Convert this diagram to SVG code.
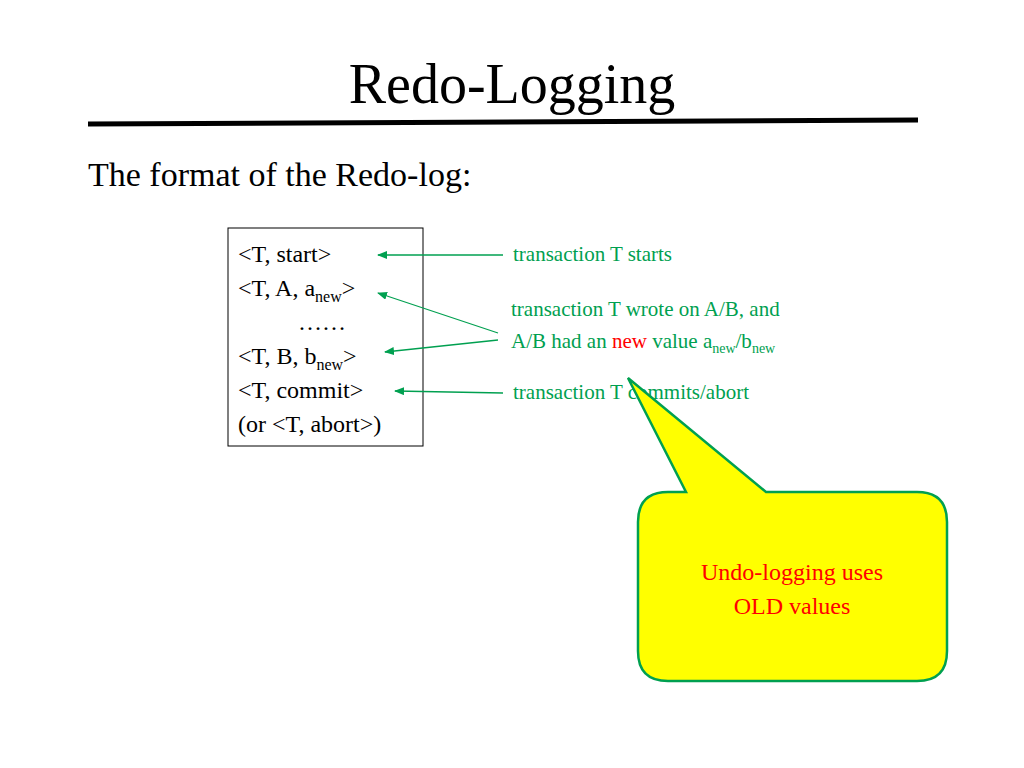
<svg xmlns="http://www.w3.org/2000/svg" width="1024" height="768" viewBox="0 0 1024 768">
<style>
text{font-family:"Liberation Serif","Times New Roman",serif}
.t{font-size:24px;fill:#000}
.g{font-size:21px;fill:#00a050}
.c{stroke:#00a050;stroke-width:1.3;fill:none;marker-end:url(#ah)}
</style>
<defs><marker id="ah" markerWidth="10" markerHeight="8" refX="9" refY="4" orient="auto" markerUnits="userSpaceOnUse"><path d="M0,0L10,4L0,8z" fill="#00a050"/></marker></defs>
<rect width="1024" height="768" fill="#fff"/>
<text x="512" y="103" font-size="56" text-anchor="middle">Redo-Logging</text>
<line x1="88" y1="124" x2="918" y2="120" stroke="#000" stroke-width="5"/>
<text x="88" y="186" font-size="34">The format of the Redo-log:</text>
<g id="log">
<rect x="228" y="228" width="195" height="218" fill="#fff" stroke="#000" stroke-width="1"/>
<text class="t" x="238" y="262">&lt;T, start&gt;</text>
<text class="t" x="238" y="296">&lt;T, A, a<tspan font-size="16" dy="6">new</tspan><tspan dy="-6">&gt;</tspan></text>
<text class="t" x="298" y="330">……</text>
<text class="t" x="238" y="364">&lt;T, B, b<tspan font-size="16" dy="6">new</tspan><tspan dy="-6">&gt;</tspan></text>
<text class="t" x="238" y="398">&lt;T, commit&gt;</text>
<text class="t" x="238" y="432">(or &lt;T, abort&gt;)</text>
</g>
<g id="labels">
<text class="g" x="513" y="261">transaction T starts</text>
<text class="g" x="511" y="316">transaction T wrote on A/B, and</text>
<text class="g" x="511" y="348">A/B had an <tspan fill="#ff0000">new</tspan> value a<tspan font-size="14" dy="5">new</tspan><tspan dy="-5">/b</tspan><tspan font-size="14" dy="5">new</tspan></text>
<text class="g" x="513" y="399">transaction T commits/abort</text>
</g>
<g id="connectors">
<line class="c" x1="503" y1="255" x2="378" y2="255"/>
<line class="c" x1="498" y1="333" x2="378" y2="293"/>
<line class="c" x1="498" y1="340" x2="385" y2="352"/>
<line class="c" x1="503" y1="393" x2="395" y2="391"/>
</g>
<g id="callout">
<path d="M668,492 L686,492 L628,378 L766,492 L917,492 Q947,492 947,522 L947,651 Q947,681 917,681 L668,681 Q638,681 638,651 L638,522 Q638,492 668,492 Z" fill="#ffff00" stroke="#00a050" stroke-width="2.5"/>
<text x="792" y="580" font-size="24" fill="#ff0000" text-anchor="middle">Undo-logging uses</text>
<text x="792" y="614" font-size="24" fill="#ff0000" text-anchor="middle">OLD values</text>
</g>
</svg>
